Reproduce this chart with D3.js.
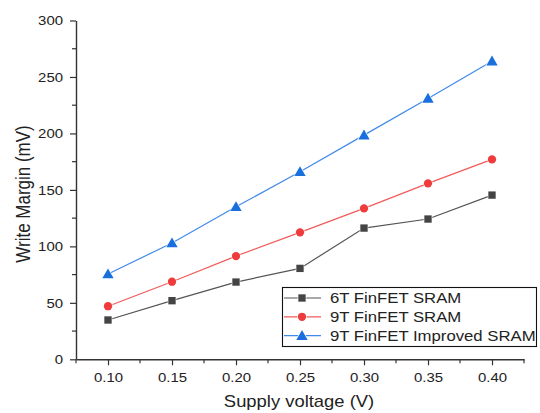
<!DOCTYPE html>
<html><head><meta charset="utf-8">
<script src="https://cdn.jsdelivr.net/npm/d3@7"></script>
<style>body{margin:0;background:#fff}svg{display:block}text{font-family:Arial,"Liberation Sans",sans-serif}</style>
</head><body>
<script>
const voltages = [0.10, 0.15, 0.20, 0.25, 0.30, 0.35, 0.40];
const sram6T = [34.8, 51.9, 68.4, 80.5, 116.2, 124.2, 145.4];
const sram9T = [47, 68.7, 91.4, 112.4, 133.6, 155.8, 177];
const sram9TImproved = [75.5, 103, 135, 166, 198.5, 231, 264];
const seriesNames = ["6T FinFET SRAM", "9T FinFET SRAM", "9T FinFET Improved SRAM"];
const xTicks = [0.10, 0.15, 0.20, 0.25, 0.30, 0.35, 0.40];
const yTicks = [0, 50, 100, 150, 200, 250, 300];

const W = 540, H = 413;
const SX = 1.15; // horizontal glyph stretch seen in the reference
const svg = d3.select("body").append("svg").attr("width", W).attr("height", H);
const x = d3.scaleLinear().domain([0.075, 0.425]).range([76, 524]);
const y = d3.scaleLinear().domain([0, 300]).range([359.3, 20.5]);

const series = [
  {name: seriesNames[0], vals: sram6T, marker: "#444444", line: "#555555", shape: d3.symbolSquare, size: 54},
  {name: seriesNames[1], vals: sram9T, marker: "#ef3b3b", line: "#f25a5a", shape: d3.symbolCircle, size: 54},
  {name: seriesNames[2], vals: sram9TImproved, marker: "#1a6fdf", line: "#3f8ae8", shape: d3.symbolTriangle, size: 56}
];

const xMinor = d3.range(0.075, 0.4251, 0.025).filter(v => !xTicks.some(t => Math.abs(t - v) < 1e-6));
const yMinor = d3.range(25, 300, 50);
const axisColor = "#333";

const gx = svg.append("g").attr("transform", `translate(0,${y(0)})`)
  .call(d3.axisBottom(x).tickValues(xTicks).tickFormat(d3.format(".2f")).tickSize(6).tickSizeOuter(0));
gx.append("g").selectAll("line").data(xMinor).join("line")
  .attr("x1", d => x(d)).attr("x2", d => x(d)).attr("y1", 0).attr("y2", 4).attr("stroke", axisColor).attr("stroke-width", 1.2);

const gy = svg.append("g").attr("transform", `translate(${x(0.075)},0)`)
  .call(d3.axisLeft(y).tickValues(yTicks).tickSize(6).tickSizeOuter(0));
gy.append("g").selectAll("line").data(yMinor).join("line")
  .attr("y1", d => y(d)).attr("y2", d => y(d)).attr("x1", 0).attr("x2", -4).attr("stroke", axisColor).attr("stroke-width", 1.2);

[gx, gy].forEach(g => {
  g.select(".domain").attr("stroke", axisColor).attr("stroke-width", 1.4);
  g.selectAll(".tick line").attr("stroke", axisColor).attr("stroke-width", 1.2);
  g.selectAll(".tick text").attr("font-size", 13).attr("fill", "#222").attr("font-family", "Arial, 'Liberation Sans', sans-serif");
});
gx.selectAll(".tick text").attr("y", 0).attr("dy", null).attr("transform", `translate(0,22.5) scale(${SX},1)`);
gy.selectAll(".tick text").attr("x", 0).attr("dy", "0.34em").attr("transform", `translate(-13,0) scale(${SX},1)`);

svg.append("text").attr("transform", `translate(299,407) scale(${SX},1)`).attr("text-anchor", "middle").attr("font-size", 16).attr("fill", "#222").text("Supply voltage (V)");
svg.append("text").attr("transform", `translate(30,194) rotate(-90) scale(1,${SX})`).attr("text-anchor", "middle").attr("font-size", 17).attr("fill", "#222").text("Write Margin (mV)");

const line = d3.line().x((d, i) => x(voltages[i])).y(d => y(d));
series.forEach(s => {
  svg.append("path").datum(s.vals).attr("d", line).attr("fill", "none").attr("stroke", s.line).attr("stroke-width", 1.2);
  svg.append("g").selectAll("path").data(s.vals).join("path")
    .attr("d", d3.symbol().type(s.shape).size(s.size))
    .attr("transform", (d, i) => `translate(${x(voltages[i])},${y(d) + (s.shape === d3.symbolTriangle ? 1 : 0)})`)
    .attr("fill", s.marker).attr("stroke", "#fff").attr("stroke-width", 1.2).attr("paint-order", "stroke");
});

const lg = svg.append("g");
lg.append("rect").attr("x", 282.5).attr("y", 287.5).attr("width", 254).attr("height", 59).attr("fill", "#fff").attr("stroke", "#111").attr("stroke-width", 1.1);
series.forEach((s, i) => {
  const ly = 298 + i * 18.8;
  lg.append("line").attr("x1", 284).attr("x2", 321).attr("y1", ly).attr("y2", ly).attr("stroke", s.line).attr("stroke-width", 1.2);
  lg.append("path").attr("d", d3.symbol().type(s.shape).size(s.size)).attr("transform", `translate(302,${ly + (s.shape === d3.symbolTriangle ? 1 : 0)})`)
    .attr("fill", s.marker).attr("stroke", "#fff").attr("stroke-width", 1.2).attr("paint-order", "stroke");
  lg.append("text").attr("transform", `translate(330,${ly + 5.3}) scale(1.17,1)`).attr("font-size", 14.3).attr("fill", "#222").text(s.name);
});
</script>
</body></html>
